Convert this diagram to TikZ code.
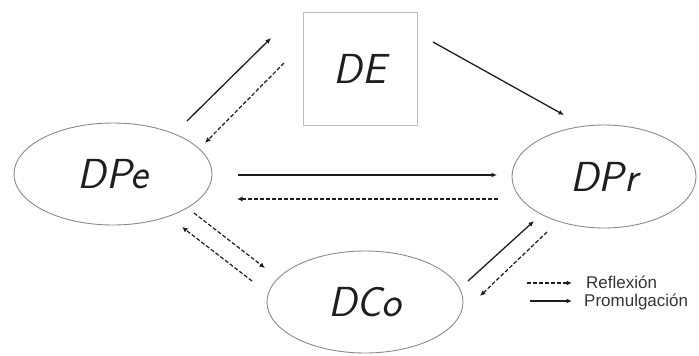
\documentclass[tikz,border=0pt]{standalone}
\usepackage{fontspec}
\setsansfont{Liberation Sans}
\newfontfamily\handfont{Latin Modern Sans}
\usetikzlibrary{arrows.meta,shapes.geometric}
\definecolor{ink}{HTML}{1E1E1E}
\definecolor{rim}{HTML}{8A8A8A}
\definecolor{boxrim}{HTML}{BDBDBD}
\tikzset{
  ell/.style={draw=rim, line width=0.9pt, ellipse, inner sep=0pt, font=\handfont\slshape\fontsize{42}{42}\selectfont, text=ink},
  sq/.style={draw=boxrim, line width=0.9pt, rectangle, inner sep=0pt, font=\handfont\slshape\fontsize{42}{42}\selectfont, text=ink},
  prom/.style={draw=ink, line width=1.3pt, -{Latex[length=5.5pt,width=5pt]}},
  refl/.style={draw=ink, line width=1.2pt, dash pattern=on 4pt off 2pt, -{Latex[length=5.5pt,width=5pt]}},
  legend/.style={font=\sffamily\fontsize{17}{17}\selectfont, text=ink!90, anchor=west, inner sep=0pt}
}
\begin{document}
\begin{tikzpicture}[x=1pt,y=-1pt]
\useasboundingbox (0,0) rectangle (699,356);
% nodes
\node[sq, minimum width=114pt, minimum height=113pt] (DE) at (360,68.5) {DE};
\node[ell, minimum width=198pt, minimum height=102pt] (DPe) at (113,174) {DPe};
\node[ell, minimum width=184pt, minimum height=103pt] (DPr) at (604,176.5) {DPr};
\node[ell, minimum width=196pt, minimum height=102pt] (DCo) at (365,302) {DCo};
% connector end points
\coordinate (a1s) at (187,121); \coordinate (a1e) at (271,38);
\coordinate (a2s) at (284,63);  \coordinate (a2e) at (205,143);
\coordinate (a3s) at (433,42);  \coordinate (a3e) at (564,115);
\coordinate (a4s) at (238,175); \coordinate (a4e) at (497,175);
\coordinate (a5s) at (498,199); \coordinate (a5e) at (237,199);
\coordinate (a6s) at (194,213); \coordinate (a6e) at (265,268);
\coordinate (a7s) at (252,281); \coordinate (a7e) at (182,227);
\coordinate (a8s) at (468,281); \coordinate (a8e) at (534,221);
\coordinate (a9s) at (547,232); \coordinate (a9e) at (480,296);
% connectors
\draw[prom] (a1s) -- (a1e);
\draw[refl] (a2s) -- (a2e);
\draw[prom] (a3s) -- (a3e);
\draw[prom] (a4s) -- (a4e);
\draw[refl] (a5s) -- (a5e);
\draw[refl] (a6s) -- (a6e);
\draw[refl] (a7s) -- (a7e);
\draw[prom] (a8s) -- (a8e);
\draw[refl] (a9s) -- (a9e);
% legend
\coordinate (l1s) at (527,283); \coordinate (l1e) at (572,283);
\coordinate (l2s) at (530,301); \coordinate (l2e) at (572,301);
\draw[refl] (l1s) -- (l1e);
\draw[prom] (l2s) -- (l2e);
\node[legend] (lt1) at (586,282) {Reflexión};
\node[legend] (lt2) at (584,302) {Promulgación};
\end{tikzpicture}
\end{document}
